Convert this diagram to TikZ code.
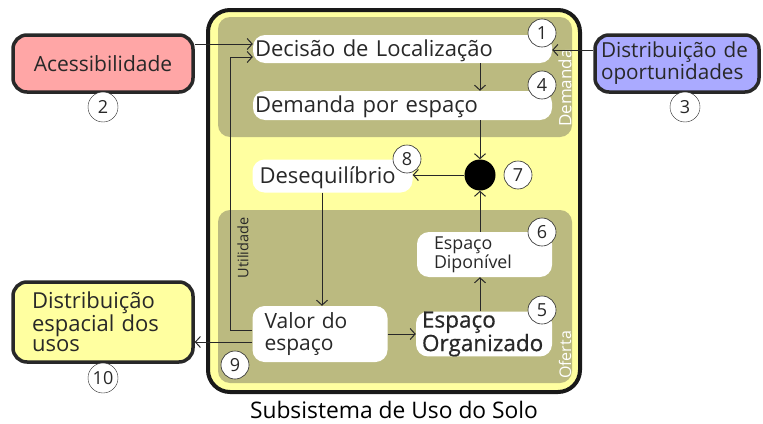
\documentclass[tikz,border=0pt]{standalone}
\usepackage{fontspec}
\setmainfont{Open Sans}
\newfontfamily\semib[FakeBold=0.6]{Open Sans}
\usetikzlibrary{arrows.meta}
\definecolor{ylw}{RGB}{255,255,160}
\definecolor{olv}{RGB}{187,186,128}
\definecolor{pinkf}{RGB}{255,166,166}
\definecolor{bluef}{RGB}{170,170,255}
\definecolor{ink}{RGB}{40,40,40}
\begin{document}
\begin{tikzpicture}[x=1pt,y=-1pt,
  wbox/.style={fill=white, rounded corners=12pt, inner ysep=0pt, align=left, text=ink},
  one/.style={text height=17pt, text depth=3pt},
  num/.style={circle, draw=ink, line width=0.6pt, fill=white, minimum size=28pt, inner sep=0pt, font=\fontsize{18}{18}\selectfont, text=ink},
  arr/.style={-{Straight Barb[length=5pt,width=11pt]}, line width=1pt, draw=ink},
  sidebox/.style={draw=ink, line width=3.5pt, rounded corners=14pt, text=ink, align=left},
  panel/.style={fill=olv, rounded corners=12pt},
  mfont/.style={font=\fontsize{22}{24}\selectfont}
]
\useasboundingbox (0,0) rectangle (763,423);
% main box
\draw[fill=ylw, draw=black!90, line width=4pt, rounded corners=22pt] (208,10) rectangle (580,392);
\fill[panel] (218,17) rectangle (572,137);
\fill[panel] (218,210) rectangle (572,383);
\node[rotate=90, text=white, font=\fontsize{17}{17}\selectfont] (lblDem) at (565,88) {Demanda};
\node[rotate=90, text=white, font=\fontsize{16}{16}\selectfont] (lblOf) at (565,355) {Oferta};
\node[rotate=90, text=ink, font=\fontsize{14.5}{14.5}\selectfont] (lblUt) at (243,248) {Utilidade};

% inner nodes
\node[wbox, mfont, one, minimum width=299pt, minimum height=28pt, text width=295pt, inner xsep=2pt] (dec) at (402.5,49) {Decisão de Localização};
\node[wbox, mfont, one, minimum width=299pt, minimum height=29pt, text width=295pt, inner xsep=2pt] (dem) at (402.5,105.5) {Demanda por espaço};
\node[wbox, mfont, one, minimum width=160pt, minimum height=33pt, text width=146pt, inner xsep=7pt] (des) at (332.5,176) {Desequilíbrio};
\node[wbox, font=\fontsize{21}{22}\selectfont, minimum width=135pt, minimum height=56pt, text width=111pt, inner xsep=12pt] (val) at (320,334) {Valor do\\espaço};
\node[wbox, font=\fontsize{22.5}{19}\semib, minimum width=136pt, minimum height=44pt, text width=124pt, inner xsep=6pt] (org) at (484,334) {Espaço\\Organizado};
\node[wbox, font=\fontsize{17.8}{19}\selectfont, minimum width=135pt, minimum height=45pt, text width=101pt, inner xsep=17pt] (dis) at (484.5,254.5) {Espaço\\Diponível};
\node[circle, fill=black, minimum size=31pt, inner sep=0pt] (dot) at (480,175) {};

% numbers
\node[num] (n1) at (542,33) {1};
\node[num] (n4) at (542,85) {4};
\node[num] (n8) at (407,159) {8};
\node[num] (n7) at (518,175) {7};
\node[num] (n6) at (542,232) {6};
\node[num] (n5) at (542,310) {5};
\node[num] (n9) at (235,365) {9};

% side boxes
\node[sidebox, fill=pinkf, minimum width=180pt, minimum height=57pt, font=\fontsize{21}{22}\selectfont, align=center] (acc) at (103,63.5) {Acessibilidade};
\node[sidebox, fill=bluef, minimum width=164pt, minimum height=57pt, font=\fontsize{20.7}{22}\selectfont, inner xsep=5pt, text width=152pt] (opo) at (677,63.5) {Distribuição de\\oportunidades};
\node[sidebox, fill=ylw, minimum width=180pt, minimum height=80pt, font=\fontsize{22}{20}\selectfont, inner xsep=18pt, text width=142pt] (esp) at (103,322) {Distribuição\\espacial dos\\usos};
\node[num, minimum size=30pt, line width=0.4pt] (n2) at (103,107) {2};
\node[num, minimum size=30pt, line width=0.4pt] (n3) at (685,107) {3};
\node[num, minimum size=30pt, line width=0.4pt] (n10) at (103,378) {10};

\node[font=\fontsize{22.8}{22.8}\selectfont, text=black] (cap) at (394,410) {Subsistema de Uso do Solo};

% connectors
\coordinate (ua) at (230,330);
\coordinate (ub) at (230,57);
\draw[arr] (acc.east |- 0,44) -- (dec.west |- 0,44);
\draw[arr] (opo.west |- 0,50) -- (dec.east |- 0,50);
\draw[line width=1pt, draw=ink] (val.west |- ua) -- (ua);
\draw[arr] (ua) -- (ub) -- (dec.west |- ub);
\draw[arr] (val.west |- 0,342) -- (esp.east |- 0,342);
\draw[arr] (dec.south -| dot) -- (dem.north -| dot);
\draw[arr] (dem.south -| dot) -- (dot.north);
\draw[arr] (dot.west) -- (des.east |- dot);
\draw[arr] (des.south -| 322,0) -- (val.north -| 322,0);
\draw[arr] (val.east) -- (org.west);
\draw[arr] (org.north -| dot) -- (dis.south -| dot);
\draw[arr] (dis.north -| dot) -- (dot.south);
\end{tikzpicture}
\end{document}
